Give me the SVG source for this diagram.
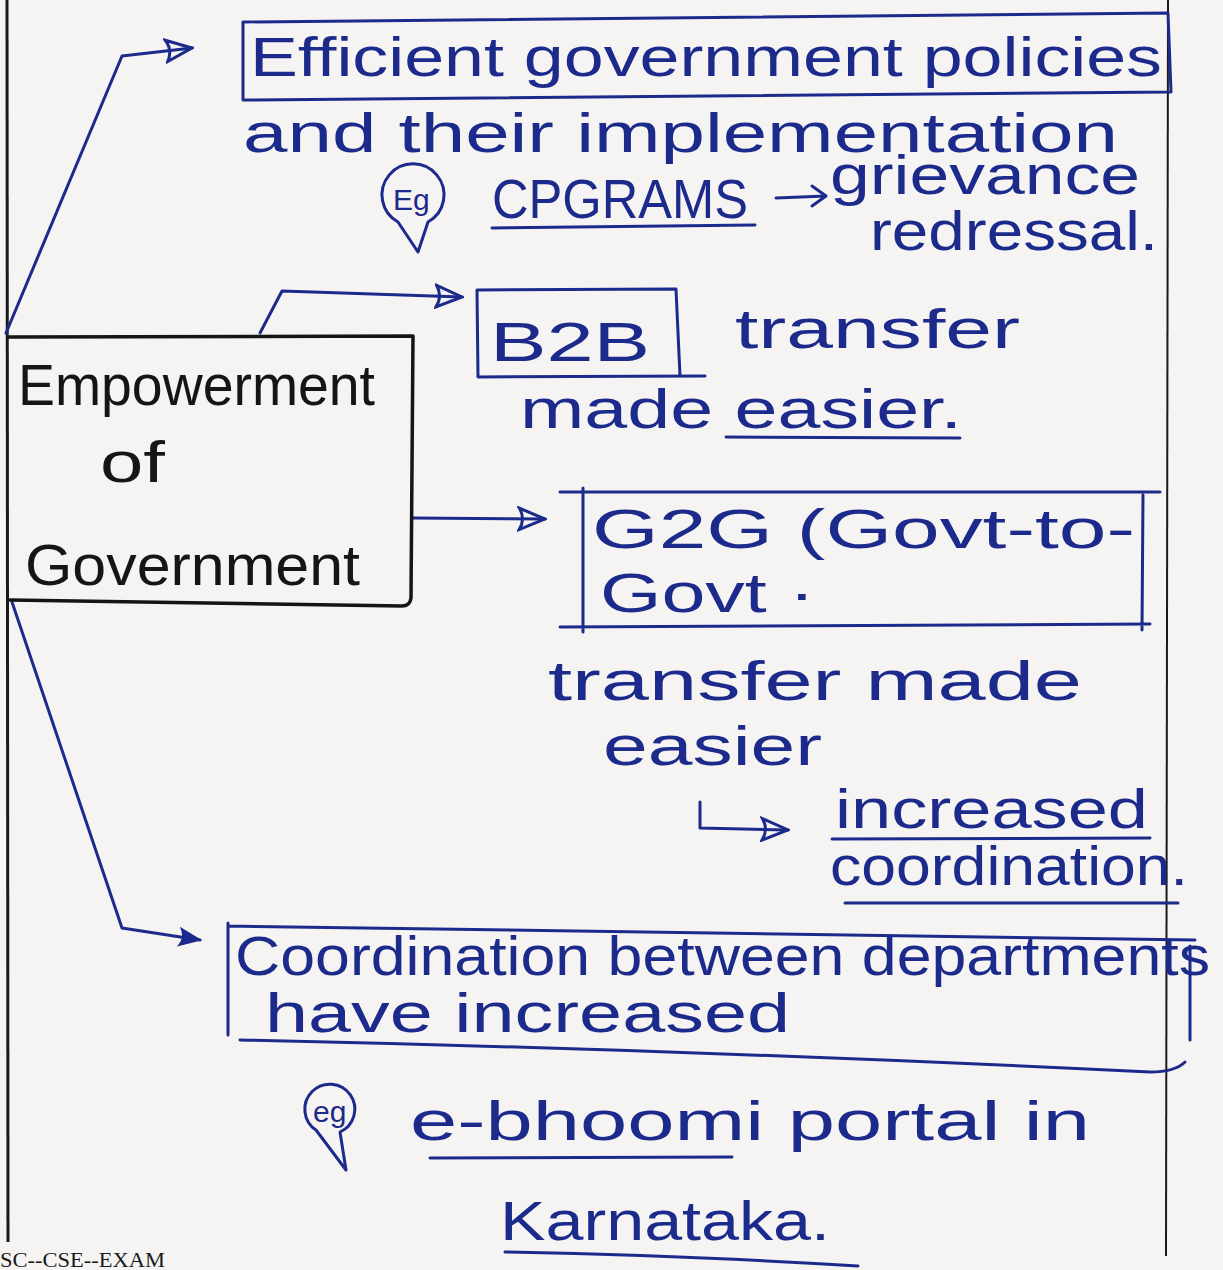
<svg xmlns="http://www.w3.org/2000/svg" width="1223" height="1270" viewBox="0 0 1223 1270">
<defs>
<style>
.ink{fill:none;stroke:#1c2a8c;stroke-width:3;stroke-linecap:round;stroke-linejoin:round}
.blk{fill:none;stroke:#151515;stroke-width:3.5;stroke-linecap:round;stroke-linejoin:round}
.t{font-family:"Liberation Sans","DejaVu Sans",sans-serif;fill:#1c2a8c;font-size:56px}
.tk{font-family:"Liberation Sans","DejaVu Sans",sans-serif;fill:#151515;font-size:58px}
.eg{font-family:"Liberation Sans","DejaVu Sans",sans-serif;fill:#1c2a8c;font-size:30px}
</style>
<marker id="open" viewBox="0 0 14 12" refX="13" refY="6" markerWidth="30" markerHeight="26" markerUnits="userSpaceOnUse" orient="auto">
<path d="M1,1 L13,6 L1,11 Q4,6 1,1 Z" fill="none" stroke="#1c2a8c" stroke-width="1.4"/>
</marker>
<marker id="solid" viewBox="0 0 14 12" refX="13" refY="6" markerWidth="24" markerHeight="20" markerUnits="userSpaceOnUse" orient="auto">
<path d="M1,1 L13,6 L1,11 Q4,6 1,1 Z" fill="#1c2a8c" stroke="#1c2a8c" stroke-width="1"/>
</marker>
</defs>
<rect x="0" y="0" width="1223" height="1270" fill="#f5f4f2"/>
<g id="page">
<line x1="7" y1="0" x2="8" y2="1242" stroke="#1a1a1a" stroke-width="3"/>
<line x1="1168" y1="0" x2="1166" y2="1256" stroke="#1a1a1a" stroke-width="2"/>
<text x="0" y="1267" font-family="Liberation Serif,serif" font-size="20" fill="#1a1a1a" textLength="165" lengthAdjust="spacingAndGlyphs">SC--CSE--EXAM</text>
</g>
<g id="connectors">
<path class="ink" d="M6,333 L122,56 L192,48" marker-end="url(#open)"/>
<path class="ink" d="M260,333 Q272,310 282,291 L462,297" marker-end="url(#open)"/>
<path class="ink" d="M413,518 L545,519" marker-end="url(#open)"/>
<path class="ink" d="M12,602 L122,928 L200,940" marker-end="url(#solid)"/>
<path class="ink" d="M700,802 L700,828 L788,830" marker-end="url(#open)"/>
<path class="ink" d="M776,198 L826,196 M812,186 L826,196 L812,206"/>
</g>
<g id="node-empowerment">
<path class="blk" d="M9,337 L413,336 L411,598 Q410,606 402,606 L10,600"/>
<text class="tk" x="18" y="405" textLength="357" lengthAdjust="spacingAndGlyphs">Empowerment</text>
<text class="tk" x="100" y="482" textLength="65" lengthAdjust="spacingAndGlyphs">of</text>
<text class="tk" x="25" y="585" textLength="335" lengthAdjust="spacingAndGlyphs">Government</text>
</g>
<g id="node-efficient">
<path class="ink" d="M243,22 L1168,13 L1171,92 L243,100 Z"/>
<text class="t" x="250" y="76" font-size="62" textLength="912" lengthAdjust="spacingAndGlyphs">Efficient government policies</text>
<text class="t" x="243" y="152" textLength="875" lengthAdjust="spacingAndGlyphs">and their implementation</text>
<path class="ink" d="M398,222 A31,31 0 1 1 428,222 L418,252 Z"/>
<text class="eg" x="393" y="210">Eg</text>
<text class="t" x="492" y="218" font-size="48" textLength="256" lengthAdjust="spacingAndGlyphs">CPGRAMS</text>
<path class="ink" d="M492,228 L755,225"/>
<text class="t" x="830" y="194" font-size="48" textLength="310" lengthAdjust="spacingAndGlyphs">grievance</text>
<text class="t" x="870" y="250" font-size="40" textLength="288" lengthAdjust="spacingAndGlyphs">redressal.</text>
</g>
<g id="node-b2b">
<path class="ink" d="M477,290 L676,289 L680,376 M477,290 L478,377 L705,376"/>
<text class="t" x="490" y="361" font-size="80" textLength="160" lengthAdjust="spacingAndGlyphs">B2B</text>
<text class="t" x="735" y="348" textLength="285" lengthAdjust="spacingAndGlyphs">transfer</text>
<text class="t" x="520" y="428" textLength="442" lengthAdjust="spacingAndGlyphs">made easier.</text>
<path class="ink" d="M726,437 L960,438"/>
</g>
<g id="node-g2g">
<path class="ink" d="M560,492 L1160,492 M583,488 L583,632 M1143,495 L1142,630 M560,627 L1150,624"/>
<text class="t" x="592" y="548" font-size="60" textLength="543" lengthAdjust="spacingAndGlyphs">G2G (Govt-to-</text>
<text class="t" x="600" y="612" textLength="215" lengthAdjust="spacingAndGlyphs">Govt ·</text>
<text class="t" x="548" y="700" font-size="58" textLength="534" lengthAdjust="spacingAndGlyphs">transfer made</text>
<text class="t" x="603" y="765" font-size="58" textLength="219" lengthAdjust="spacingAndGlyphs">easier</text>
<text class="t" x="835" y="828" font-size="60" textLength="313" lengthAdjust="spacingAndGlyphs">increased</text>
<path class="ink" d="M832,839 L1150,838"/>
<text class="t" x="830" y="885" font-size="58" textLength="358" lengthAdjust="spacingAndGlyphs">coordination.</text>
<path class="ink" d="M845,903 L1178,903"/>
</g>
<g id="node-coordination">
<path class="ink" d="M228,923 L228,1035 M228,926 L1195,940 M1190,946 L1190,1040"/>
<path class="ink" d="M240,1040 Q700,1050 1150,1072 Q1175,1072 1185,1062"/>
<text class="t" x="235" y="975" font-size="50" textLength="975" lengthAdjust="spacingAndGlyphs">Coordination between departments</text>
<text class="t" x="265" y="1032" font-size="50" textLength="525" lengthAdjust="spacingAndGlyphs">have increased</text>
<path class="ink" d="M316,1130 A25,25 0 1 1 340,1132 L346,1170 Z"/>
<text class="eg" x="313" y="1122" font-size="26">eg</text>
<text class="t" x="410" y="1140" font-size="60" textLength="680" lengthAdjust="spacingAndGlyphs">e-bhoomi portal in</text>
<path class="ink" d="M430,1158 L732,1157"/>
<text class="t" x="500" y="1240" textLength="330" lengthAdjust="spacingAndGlyphs">Karnataka.</text>
<path class="ink" d="M505,1252 Q700,1256 858,1266"/>
</g>
</svg>
